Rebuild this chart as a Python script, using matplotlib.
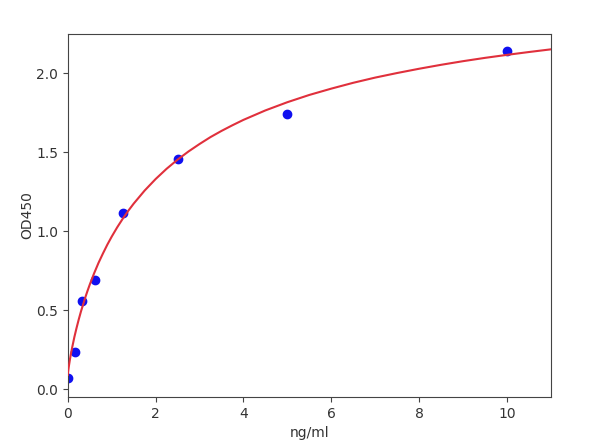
import numpy as np
import matplotlib
matplotlib.use("Agg")
import matplotlib.pyplot as plt

# standard concentrations and measured OD450
conc = [0, 0.156, 0.3125, 0.625, 1.25, 2.5, 5, 10]
od = [0.07, 0.235, 0.56, 0.69, 1.114, 1.456, 1.745, 2.14]

# fitted curve, values
curve_x = [0, 0.01, 0.025, 0.05, 0.075, 0.1, 0.15, 0.2, 0.25, 0.3, 0.4,
           0.45, 0.5, 0.6, 0.7, 0.8, 0.9, 1.0, 1.125, 1.25, 1.375, 1.5,
           1.75, 2, 2.25, 2.5, 2.75, 3, 3.25, 3.5, 3.75, 4, 4.5, 5, 5.5,
           6, 6.5, 7, 7.5, 8, 8.5, 9, 9.5, 10, 10.5, 11]
curve_y = [0.09, 0.116, 0.146, 0.19, 0.229, 0.264, 0.330, 0.388, 0.442,
           0.492, 0.582, 0.623, 0.662, 0.734, 0.800, 0.859, 0.915, 0.966,
           1.025, 1.079, 1.129, 1.175, 1.258, 1.331, 1.396, 1.454, 1.506,
           1.553, 1.597, 1.636, 1.672, 1.706, 1.766, 1.818, 1.864, 1.904,
           1.941, 1.974, 2.003, 2.030, 2.055, 2.078, 2.099, 2.118, 2.136,
           2.153]

fig = plt.figure(figsize=(6, 4.48), dpi=100)
ax = fig.add_axes([0.113, 0.114, 0.805, 0.81])

# points first, curve drawn over them
ax.plot(conc, od, "o", color="#1010f0", markersize=6, zorder=2)
ax.plot(curve_x, curve_y, "-", color="#e0303c", linewidth=1.5, zorder=3)

ax.set_xlim(0, 11)
ax.set_ylim(-0.05, 2.25)
ax.set_xticks([0, 2, 4, 6, 8, 10])
ax.set_yticks([0.0, 0.5, 1.0, 1.5, 2.0])

for s in ax.spines.values():
    s.set_color("#444444")
ax.tick_params(colors="#444444", labelcolor="#333333")

ax.set_xlabel("ng/ml", color="#333333")
ax.set_ylabel("OD450", color="#333333", labelpad=1)

fig.savefig("out.png", dpi=100)
